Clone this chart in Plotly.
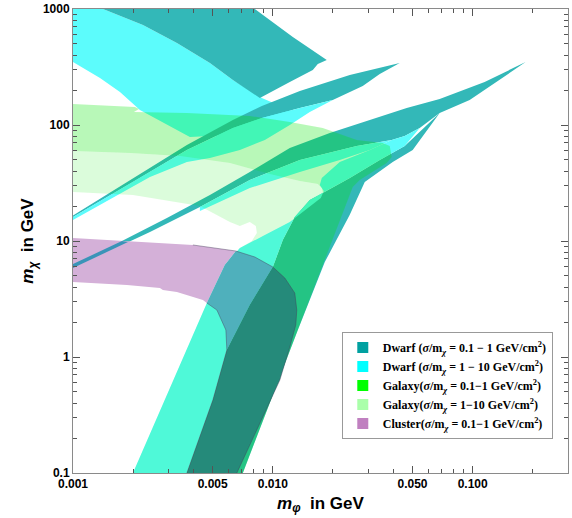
import numpy as np
import plotly.graph_objects as go

# ---------------------------------------------------------------
# Region boundaries in the (m_phi, m_chi) plane, both in GeV.
# "dwarf_a" = Dwarf 0.1-1 cm^2/g, "dwarf_b" = Dwarf 1-10,
# "galaxy_a" = Galaxy 0.1-1, "galaxy_b" = Galaxy 1-10, "cluster" = Cluster 0.1-1
# ---------------------------------------------------------------

# Dwarf 1-10: classical band (upper left)
dwarf_b_top_mphi = [0.001, 0.001413, 0.002239, 0.003311, 0.004842, 0.00631, 0.00881, 0.01365,
                    0.00767, 0.003846, 0.002163, 0.001718, 0.001365, 0.001]
dwarf_b_top_mchi = [1000, 1000, 728, 509, 342, 244, 171, 124, 83.6, 78.8, 134.7, 192.5, 254, 349]

# Dwarf 0.1-1: classical band (top)
dwarf_a_top_mphi = [0.001413, 0.008128, 0.01259, 0.01862, 0.01679, 0.01585, 0.01216, 0.00861,
                    0.00631, 0.004842, 0.003311, 0.002239]
dwarf_a_top_mchi = [1000, 1000, 574, 363, 336, 298, 235, 171, 244, 342, 509, 728]

# First resonance spike
dwarf_a_res1_mphi = [0.001, 0.001995, 0.003715, 0.00631, 0.00881, 0.01365, 0.02427, 0.04315,
                     0.03428, 0.02818, 0.01995, 0.01365, 0.00881, 0.00631, 0.003715, 0.001995, 0.001]
dwarf_a_res1_mchi = [16.6, 34.9, 67.2, 110.4, 145.8, 196.4, 270, 342,
                     275, 217, 164, 140.2, 114.9, 94.2, 60.9, 32.3, 16.1]
dwarf_b_res1_mphi = [0.001, 0.001995, 0.003715, 0.00631, 0.00881, 0.01365, 0.01995, 0.01531,
                     0.01216, 0.00912, 0.006839, 0.004842, 0.003715, 0.002427, 0.001]
dwarf_b_res1_mchi = [16.1, 32.3, 60.9, 94.2, 114.9, 140.2, 164, 129.5,
                     100, 74.3, 60.9, 51.9, 48.0, 35.6, 15.2]

# Second resonance spike
dwarf_a_res2_mphi = [0.001, 0.001718, 0.002951, 0.004842, 0.00767, 0.01216, 0.01928, 0.0263,
                     0.04677, 0.06839, 0.1148, 0.1841, 0.1365, 0.0966, 0.06839, 0.05433,
                     0.04571, 0.03936, 0.0263, 0.01365, 0.00767, 0.004315, 0.002427, 0.001]
dwarf_a_res2_mchi = [6.33, 9.80, 15.8, 24.9, 39.3, 63.3, 85.3, 102,
                     140, 167.5, 235, 349, 244, 164, 127, 94.2,
                     80.4, 74.3, 65.9, 49.9, 33.6, 19.6, 11.96, 5.85]
dwarf_b_res2_mphi = [0.004315, 0.00767, 0.01365, 0.0263, 0.03936, 0.03055, 0.02163, 0.01365,
                     0.00767, 0.004315]
dwarf_b_res2_mchi = [19.6, 33.6, 49.9, 65.9, 74.3, 60.9, 49.9, 39.3, 28.6, 18.1]

# Born-regime bands (lower part)
dwarf_a_born_mphi = [0.003715, 0.007079, 0.01334, 0.0182, 0.02427, 0.02884, 0.03981, 0.05012,
                     0.06839, 0.04571, 0.03428, 0.02427, 0.01778, 0.01531, 0.01288, 0.01122,
                     0.0100, 0.00767, 0.005888, 0.005012]
dwarf_a_born_mchi = [0.1, 0.1, 1.71, 6.59, 16.8, 32.3, 48.0, 60.9,
                     127, 65.9, 49.9, 34.9, 25.9, 22.6, 16.1, 10.2,
                     5.97, 2.81, 1.149, 0.426]
dwarf_b_born_mphi = [0.001995, 0.003715, 0.005012, 0.005888, 0.00767, 0.0100, 0.01122, 0.01288,
                     0.01531, 0.01778, 0.02427, 0.03428, 0.04571, 0.05433, 0.04571, 0.03936,
                     0.03055, 0.02163, 0.01758, 0.01718, 0.01799, 0.01738, 0.01445, 0.01216,
                     0.00912, 0.006839, 0.005754, 0.004677]
dwarf_b_born_mchi = [0.1, 0.1, 0.426, 1.149, 2.81, 5.97, 10.2, 16.1,
                     22.6, 25.9, 34.9, 49.9, 65.9, 94.2, 80.4, 74.3,
                     60.9, 48.0, 34.9, 30.4, 27.0, 23.5, 18.5, 14.6,
                     11.27, 8.70, 6.21, 2.92]

# Galaxy bands
galaxy_a_mphi = [0.001, 0.002042, 0.002138, 0.002018, 0.003715, 0.00767, 0.01216, 0.01778,
                 0.0263, 0.03548, 0.03846, 0.03936, 0.03715, 0.02723, 0.02512, 0.007079,
                 0.003715, 0.005012, 0.005888, 0.00767, 0.0100, 0.01122, 0.01288, 0.01531,
                 0.01778, 0.01758, 0.01679, 0.01365, 0.00966, 0.006095, 0.003428, 0.001928, 0.001]
galaxy_a_mchi = [151.7, 143, 137.4, 129.5, 126.9, 119.6, 106.1, 94.2,
                 74.3, 69.9, 65.9, 53.0, 47.0, 33.6, 29.2, 0.1,
                 0.1, 0.426, 1.149, 2.81, 5.97, 10.2, 16.1, 22.6,
                 25.9, 28.6, 31.0, 32.9, 37.8, 47.0, 54.1, 57.4, 59.7]
galaxy_b_mphi = [0.001, 0.001928, 0.003428, 0.006095, 0.00966, 0.01365, 0.01679, 0.01758,
                 0.01778, 0.01531, 0.01288, 0.01122, 0.0100, 0.00767, 0.005888, 0.005012,
                 0.003715, 0.001995, 0.004677, 0.005754, 0.006839, 0.007852, 0.008318, 0.008222,
                 0.00767, 0.006839, 0.006095, 0.004315, 0.001995, 0.001]
galaxy_b_mchi = [59.7, 57.4, 54.1, 47.0, 37.8, 32.9, 31.0, 28.6,
                 25.9, 22.6, 16.1, 10.2, 5.97, 2.81, 1.149, 0.426,
                 0.1, 0.1, 2.92, 6.21, 8.70, 10.0, 11.72, 13.5,
                 14.6, 13.5, 14.6, 20.0, 24.9, 26.5]

# Cluster band and its overlaps
cluster_mphi = [0.001, 0.001862, 0.003981, 0.006531, 0.005754, 0.004677, 0.004467, 0.003311,
                0.002818, 0.002723, 0.001862, 0.001]
cluster_mchi = [10.61, 10.0, 9.24, 8.20, 6.21, 2.92, 3.10, 3.63, 3.78, 3.93, 4.18, 4.43]
cluster_dwarf_b_mphi = [0.006531, 0.008128, 0.0100, 0.00767, 0.005888, 0.005821, 0.005248,
                        0.004677, 0.005754]
cluster_dwarf_b_mchi = [8.20, 7.28, 5.97, 2.81, 1.149, 1.71, 2.54, 2.92, 6.21]
cluster_dwarf_a_mphi = [0.0100, 0.01148, 0.01288, 0.01318, 0.01303, 0.01216, 0.01084, 0.006607,
                        0.003715, 0.005012, 0.005888, 0.00767]
cluster_dwarf_a_mchi = [5.97, 4.80, 3.56, 2.54, 1.89, 1.22, 0.633, 0.1,
                        0.1, 0.426, 1.149, 2.81]
cluster_res2_mphi = [0.001, 0.001758, 0.001884, 0.001]
cluster_res2_mchi = [6.33, 10.0, 9.80, 5.85]

# Outline of the bent cluster band
cluster_edge_mphi = [0.003981, 0.006531, 0.008128, 0.0100, 0.01148, 0.01288, 0.01318, 0.01303,
                     0.01216, 0.01084, 0.006607]
cluster_edge_mchi = [9.24, 8.20, 7.28, 5.97, 4.80, 3.56, 2.54, 1.89, 1.22, 0.633, 0.1]
cluster_inner_mphi = [0.004677, 0.005248, 0.005821, 0.005888, 0.005012, 0.003715]
cluster_inner_mchi = [2.92, 2.54, 1.71, 1.149, 0.426, 0.1]

# Axis ticks
x_ticks = [0.001, 0.005, 0.01, 0.05, 0.1]
x_ticktext = ["0.001", "0.005", "0.010", "0.050", "0.100"]
x_minor = [0.002, 0.003, 0.004, 0.006, 0.007, 0.008, 0.009,
           0.02, 0.03, 0.04, 0.06, 0.07, 0.08, 0.09, 0.2, 0.3]
y_ticks = [0.1, 1, 10, 100, 1000]
y_ticktext = ["0.1", "1", "10", "100", "1000"]
y_minor = [m * d for d in (0.1, 1, 10, 100) for m in range(2, 10)]

# Legend entries
legend_names = [
    "Dwarf (<i>σ</i>/m<sub><i>χ</i></sub> = 0.1 − 1 GeV/cm<sup>2</sup>)",
    "Dwarf (<i>σ</i>/m<sub><i>χ</i></sub> = 1 − 10 GeV/cm<sup>2</sup>)",
    "Galaxy(<i>σ</i>/m<sub><i>χ</i></sub> = 0.1−1 GeV/cm<sup>2</sup>)",
    "Galaxy(<i>σ</i>/m<sub><i>χ</i></sub> = 1−10 GeV/cm<sup>2</sup>)",
    "Cluster(<i>σ</i>/m<sub><i>χ</i></sub> = 0.1−1 GeV/cm<sup>2</sup>)",
]
legend_colors = ["#00a0a0", "#00ffff", "#00ff00", "#aaffaa", "#c080c0"]

TEAL = "#33b8b8"
CYAN = "#5cfcfc"
GAL_A = "rgba(0,230,0,0.28)"
GAL_B = "rgba(0,235,0,0.14)"
PURPLE = "#d4b0d8"
CL_CYAN = "#4fb0bc"
CL_TEAL = "#258a7a"
CL_LINE = "#3a94b8"

fig = go.Figure()


def region(xs, ys, color):
    fig.add_trace(go.Scatter(
        x=xs, y=ys, mode="lines", fill="toself", fillcolor=color,
        line=dict(width=0), showlegend=False, hoverinfo="skip"))


def edge(xs, ys):
    fig.add_trace(go.Scatter(
        x=xs, y=ys, mode="lines", line=dict(width=0.8, color="rgba(70,60,90,0.55)"),
        showlegend=False, hoverinfo="skip"))


region(dwarf_b_top_mphi, dwarf_b_top_mchi, CYAN)
region(dwarf_a_top_mphi, dwarf_a_top_mchi, TEAL)
region(dwarf_a_res1_mphi, dwarf_a_res1_mchi, TEAL)
region(dwarf_b_res1_mphi, dwarf_b_res1_mchi, CYAN)
region(dwarf_a_res2_mphi, dwarf_a_res2_mchi, TEAL)
region(dwarf_b_res2_mphi, dwarf_b_res2_mchi, CYAN)
region(dwarf_a_born_mphi, dwarf_a_born_mchi, TEAL)
region(dwarf_b_born_mphi, dwarf_b_born_mchi, CYAN)
region(galaxy_a_mphi, galaxy_a_mchi, GAL_A)
region(galaxy_b_mphi, galaxy_b_mchi, GAL_B)
region(cluster_mphi, cluster_mchi, PURPLE)
region(cluster_dwarf_b_mphi, cluster_dwarf_b_mchi, CL_CYAN)
region(cluster_dwarf_a_mphi, cluster_dwarf_a_mchi, CL_TEAL)
region(cluster_res2_mphi, cluster_res2_mchi, CL_LINE)
edge(cluster_edge_mphi, cluster_edge_mchi)
edge(cluster_inner_mphi, cluster_inner_mchi)

for name, col in zip(legend_names, legend_colors):
    fig.add_trace(go.Scatter(
        x=[None], y=[None], mode="markers", name=name,
        marker=dict(symbol="square", size=11, color=col, line=dict(width=0))))

axis_common = dict(
    type="log", showgrid=False, zeroline=False,
    showline=True, linecolor="#8a8a8a", linewidth=1, mirror="allticks",
    ticks="inside", ticklen=7, tickwidth=1, tickcolor="#555555",
    tickfont=dict(family="Liberation Sans", size=12, color="black", weight="bold"),
)

fig.update_xaxes(
    range=[-3, np.log10(0.3)], tickvals=x_ticks, ticktext=x_ticktext,
    minor=dict(tickvals=x_minor, ticks="inside", ticklen=4, tickcolor="#555555", showgrid=False),
    title=dict(text="<b><i>m</i><sub><i>φ</i></sub>\u00a0 in GeV</b>",
               font=dict(family="Liberation Sans", size=17, color="black"), standoff=6),
    **axis_common)
fig.update_yaxes(
    range=[-1, 3], tickvals=y_ticks, ticktext=y_ticktext,
    minor=dict(tickvals=y_minor, ticks="inside", ticklen=4, tickcolor="#555555", showgrid=False),
    title=dict(text="<b><i>m</i><sub><i>χ</i></sub>\u00a0 in GeV</b>",
               font=dict(family="Liberation Sans", size=17, color="black"), standoff=4),
    **axis_common)

fig.update_layout(
    width=572, height=518,
    margin=dict(l=73, r=4, t=9, b=45, autoexpand=False),
    paper_bgcolor="white", plot_bgcolor="white",
    legend=dict(
        x=0.543, y=0.304, xanchor="left", yanchor="top",
        bgcolor="white", bordercolor="#999999", borderwidth=1,
        font=dict(family="Liberation Serif", size=12, color="black", weight="bold"),
        traceorder="normal",
    ),
)

fig.write_html("out.html")
